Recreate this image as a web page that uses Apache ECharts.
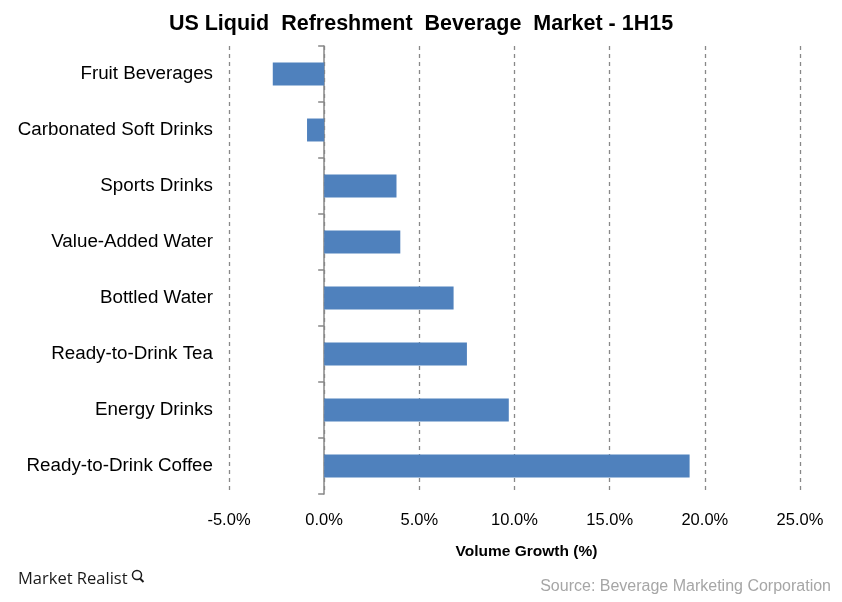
<!DOCTYPE html>
<html><head><meta charset="utf-8">
<script src="https://cdn.jsdelivr.net/npm/echarts@6/dist/echarts.min.js"></script>
<style>html,body{margin:0;padding:0;background:#fff}#c{width:842px;height:602px}</style>
</head><body><div id="c"></div>
<script>
const categories = ['Fruit Beverages','Carbonated Soft Drinks','Sports Drinks','Value-Added Water','Bottled Water','Ready-to-Drink Tea','Energy Drinks','Ready-to-Drink Coffee'];
const growth = [-2.7, -0.9, 3.8, 4.0, 6.8, 7.5, 9.7, 19.2];
const xTicks = [-5, 0, 5, 10, 15, 20, 25];

const chart = echarts.init(document.getElementById('c'));
chart.setOption({
  animation: false,
  backgroundColor: '#fff',
  title: {
    text: 'US Liquid  Refreshment  Beverage  Market - 1H15',
    left: 'center', top: 8,
    textStyle: {fontFamily: 'Liberation Sans', fontWeight: 'bold', fontSize: 21.5, color: '#000'}
  },
  grid: {left: 229, right: 42, top: 46, bottom: 108},
  xAxis: {
    type: 'value', min: xTicks[0], max: xTicks[xTicks.length-1], interval: 5,
    axisLine: {show: false}, axisTick: {show: false},
    axisLabel: {formatter: v => v.toFixed(1) + '%', fontFamily: 'Liberation Sans', fontSize: 16.5, color: '#000', margin: 18},
    splitLine: {show: true, lineStyle: {type: [4, 4], color: '#888', width: 1.3}},
    name: 'Volume Growth (%)', nameLocation: 'middle', nameGap: 50,
    nameTextStyle: {fontFamily: 'Liberation Sans', fontWeight: 'bold', fontSize: 15.5, color: '#000', padding: [0, 0, 0, 24]}
  },
  yAxis: [{
    type: 'category', data: categories, inverse: true,
    axisLine: {show: false, onZero: false}, axisTick: {show: false},
    axisLabel: {fontFamily: 'Liberation Sans', fontSize: 18.8, color: '#000', margin: 16}
  }, {
    type: 'category', data: categories, inverse: true, position: 'left',
    axisLine: {show: true, onZero: true, lineStyle: {color: '#888', width: 1.5}},
    axisTick: {show: true, length: 6, lineStyle: {color: '#888', width: 1.5}},
    axisLabel: {show: false}
  }],
  series: [{
    type: 'bar', data: growth, yAxisIndex: 0, barWidth: '41%',
    itemStyle: {color: '#4f81bd'}
  }],
  graphic: [
    {type: 'text', right: 11, top: 579, style: {text: 'Source: Beverage Marketing Corporation', fontFamily: 'Liberation Sans', fontSize: 16, fill: '#a6a6a6'}},
    {type: 'text', left: 18, top: 571, style: {text: 'Market Realist', fontFamily: 'Open Sans', fontSize: 16.5, fill: '#1a1a1a'}},
    {type: 'circle', shape: {cx: 137, cy: 575, r: 4.5}, style: {fill: 'none', stroke: '#1a1a1a', lineWidth: 1.5}},
    {type: 'line', shape: {x1: 140, y1: 578.5, x2: 143.5, y2: 582}, style: {stroke: '#1a1a1a', lineWidth: 2}}
  ]
});
</script></body></html>
